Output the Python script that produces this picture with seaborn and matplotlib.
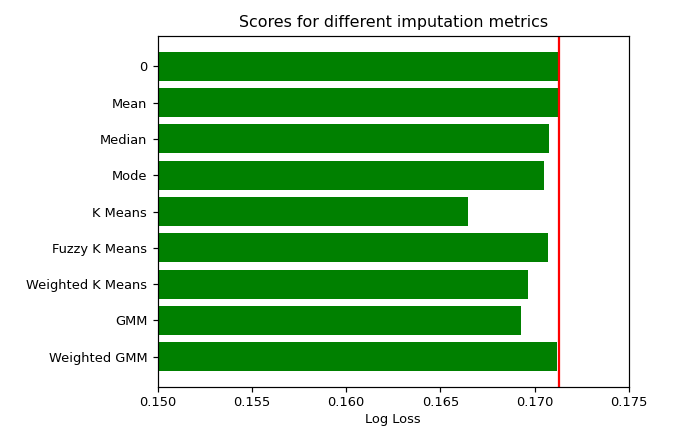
import matplotlib
matplotlib.use("Agg")
import matplotlib.pyplot as plt
import pandas as pd
import seaborn as sns

# Datos
methods = ["0", "Mean", "Median", "Mode", "K Means", "Fuzzy K Means",
           "Weighted K Means", "GMM", "Weighted GMM"]
log_loss = [0.17125, 0.17127, 0.17077, 0.17049, 0.16644, 0.17069,
            0.16966, 0.16927, 0.17120]
baseline = 0.17129
xticks = [0.150, 0.155, 0.160, 0.165, 0.170, 0.175]

df = pd.DataFrame({"method": methods, "score": log_loss})

plt.rcParams["font.size"] = 8.7

fig = plt.figure(figsize=(674 / 108, 438 / 108), dpi=108)
ax = fig.add_axes([0.234, 0.116, 0.699, 0.802])

sns.barplot(data=df, y="method", x="score", orient="h", color="green",
            saturation=1, width=0.8, ax=ax)
ax.axvline(baseline, color="red")

ax.set_xlim(0.150, 0.175)
ax.set_xticks(xticks)
ax.set_xticklabels([f"{t:.3f}" for t in xticks])
ax.tick_params(labelsize=8.7)
ax.tick_params(axis="x", pad=2.5)
ax.set_ylim(len(methods) - 1 + 0.84, -0.84)
ax.set_xlabel("Log Loss", fontsize=8.7, labelpad=2.5)
ax.set_ylabel("")
ax.set_title("Scores for different imputation metrics", fontsize=10.6)

fig.savefig("out.png", dpi=108)
